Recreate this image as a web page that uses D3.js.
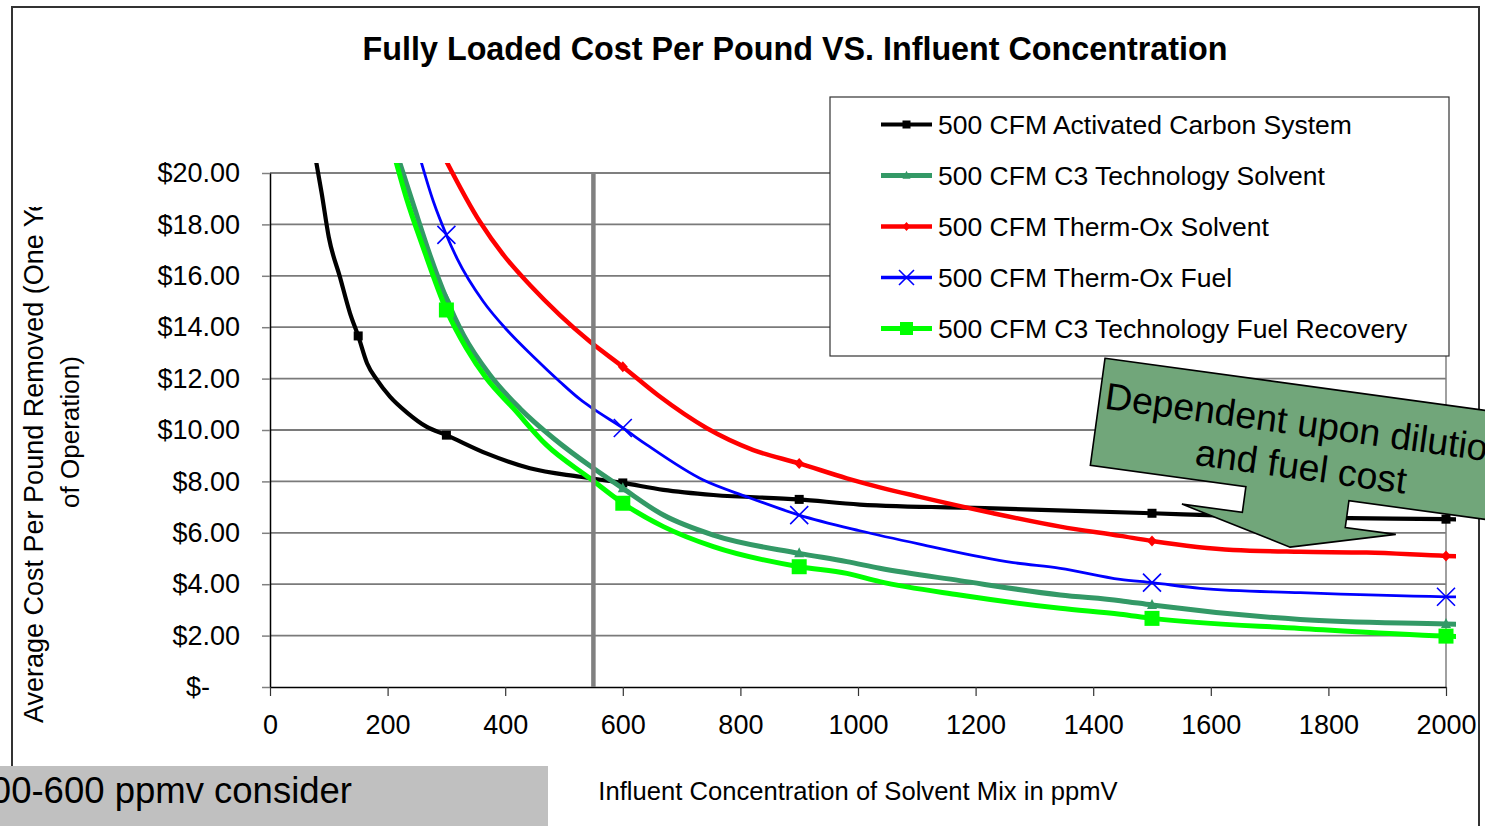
<!DOCTYPE html>
<html>
<head>
<meta charset="utf-8">
<title>Fully Loaded Cost Per Pound VS. Influent Concentration</title>
<script src="https://cdn.jsdelivr.net/npm/d3@7/dist/d3.min.js"></script>
<style>
  html, body { margin: 0; padding: 0; background: #fff; overflow: hidden; }
  svg { display: block; }
  text { font-family: "Liberation Sans", Arial, Helvetica, sans-serif; fill: #000; }
</style>
</head>
<body>
<svg id="chart" width="1485" height="826"></svg>
<script>
// Average cost per pound removed ($, one year of operation) against influent concentration (ppmV)
const activatedCarbon = [
  [75, 20.9], [88, 19.2], [100, 17.5], [119, 15.95], [136, 14.55], [150, 13.66], [165, 12.6],
  [182, 11.95], [204, 11.3], [233, 10.68], [266, 10.13], [300, 9.8], [368, 9.09], [442, 8.51],
  [527, 8.18], [600, 7.94], [669, 7.67], [754, 7.47], [900, 7.3], [1003, 7.1], [1230, 6.95],
  [1500, 6.76], [1650, 6.65], [1800, 6.58], [2000, 6.53], [2030, 6.52]
];
const c3Solvent = [
  [215, 20.8], [244, 18.75], [272, 16.81], [300, 15.12], [329, 13.7], [374, 12.14], [425, 10.84],
  [482, 9.68], [550, 8.51], [600, 7.73], [669, 6.69], [754, 5.91], [900, 5.2], [981, 4.88],
  [1037, 4.62], [1173, 4.14], [1344, 3.58], [1446, 3.36], [1500, 3.19], [1752, 2.63],
  [2000, 2.45], [2030, 2.43]
];
const thermOxSolvent = [
  [290, 20.9], [357, 18.1], [397, 16.81], [442, 15.64], [493, 14.47], [544, 13.44], [600, 12.46],
  [660, 11.35], [743, 10.07], [822, 9.22], [900, 8.7], [981, 8.12], [1037, 7.77], [1105, 7.4],
  [1230, 6.76], [1344, 6.24], [1446, 5.88], [1500, 5.68], [1638, 5.33], [1752, 5.26],
  [1865, 5.23], [2000, 5.1], [2030, 5.08]
];
const thermOxFuel = [
  [250, 21.0], [278, 18.88], [300, 17.59], [318, 16.68], [363, 14.99], [403, 13.89], [448, 12.85],
  [493, 11.88], [527, 11.2], [550, 10.82], [600, 10.08], [641, 9.42], [737, 8.05], [811, 7.4],
  [900, 6.69], [1003, 6.08], [1105, 5.56], [1264, 4.84], [1344, 4.62], [1446, 4.19], [1500, 4.06],
  [1582, 3.84], [1752, 3.67], [2000, 3.51], [2030, 3.5]
];
const c3FuelRecovery = [
  [210, 20.8], [232, 19.02], [261, 17.07], [300, 14.67], [334, 13.18], [368, 12.01], [414, 10.84],
  [470, 9.42], [544, 8.12], [600, 7.15], [669, 6.24], [754, 5.46], [900, 4.68], [981, 4.42],
  [1037, 4.1], [1173, 3.58], [1344, 3.06], [1446, 2.83], [1500, 2.67], [1752, 2.28],
  [2000, 1.98], [2030, 1.96]
];

// concentrations at which each series shows a point marker
const carbonMarkers = [150, 300, 600, 900, 1500, 2000];
const standardMarkers = [300, 600, 900, 1500, 2000];

const seriesNames = [
  "500 CFM Activated Carbon System",
  "500 CFM C3 Technology Solvent",
  "500 CFM Therm-Ox Solvent",
  "500 CFM Therm-Ox Fuel",
  "500 CFM C3 Technology Fuel Recovery"
];
const xTickValues = [0, 200, 400, 600, 800, 1000, 1200, 1400, 1600, 1800, 2000];
const yTickValues = [0, 2, 4, 6, 8, 10, 12, 14, 16, 18, 20];
const referenceConcentration = 550;

const chartTitle = "Fully Loaded Cost Per Pound VS. Influent Concentration";
const xTitle = "Influent Concentration of Solvent Mix in ppmV";
const yTitleLines = ["Average Cost Per Pound Removed (One Year", "of Operation)"];
const calloutLines = ["Dependent upon dilution", "and fuel cost"];
const noteText = "00-600 ppmv consider";

// ---- layout ----
const plot = { left: 270, right: 1446, top: 173, bottom: 687 };
const x = d3.scaleLinear().domain([0, 2000]).range([plot.left, plot.right]);
const y = d3.scaleLinear().domain([0, 20]).range([plot.bottom, plot.top]);
const svg = d3.select("#chart");

// outer chart frame
svg.append("rect")
  .attr("x", 12).attr("y", 7).attr("width", 1467).attr("height", 900)
  .attr("fill", "#fff").attr("stroke", "#333").attr("stroke-width", 2);

svg.append("text")
  .attr("x", 795).attr("y", 60).attr("text-anchor", "middle")
  .attr("font-size", 32.3).attr("font-weight", "bold")
  .text(chartTitle);

// horizontal gridlines
svg.append("g").selectAll("line")
  .data(yTickValues.filter(v => v > 0))
  .join("line")
  .attr("x1", plot.left).attr("x2", plot.right)
  .attr("y1", d => y(d)).attr("y2", d => y(d))
  .attr("stroke", d => d === 20 ? "#000" : "#7a7a7a")
  .attr("stroke-width", d => d === 20 ? 1.2 : 1.8);

svg.append("line")
  .attr("x1", plot.right).attr("x2", plot.right)
  .attr("y1", plot.top).attr("y2", plot.bottom)
  .attr("stroke", "#808080").attr("stroke-width", 1.5);

// axes
const yAxis = d3.axisLeft(y).tickValues(yTickValues).tickSize(8).tickSizeOuter(0).tickPadding(22)
  .tickFormat(d => d === 0 ? "$-" : "$" + d.toFixed(2));
const gy = svg.append("g").attr("transform", `translate(${plot.left},0)`).call(yAxis)
  .attr("font-size", 27).attr("font-family", null);
gy.select(".domain").attr("stroke", "#000").attr("stroke-width", 1.5);
gy.selectAll(".tick line").attr("stroke", "#808080").attr("stroke-width", 1.5);
gy.selectAll(".tick text").attr("fill", "#000");
gy.selectAll(".tick text").filter(d => d === 0).attr("dx", "-1.112em");

const xAxis = d3.axisBottom(x).tickValues(xTickValues).tickSize(9).tickSizeOuter(0).tickPadding(19)
  .tickFormat(d3.format("d"));
const gx = svg.append("g").attr("transform", `translate(0,${plot.bottom})`).call(xAxis)
  .attr("font-size", 27).attr("font-family", null);
gx.select(".domain").attr("stroke", "#000").attr("stroke-width", 1.5);
gx.selectAll(".tick line").attr("stroke", "#333").attr("stroke-width", 1.2);
gx.selectAll(".tick text").attr("fill", "#000");

// axis titles
svg.append("text")
  .attr("x", (plot.left + plot.right) / 2).attr("y", 800).attr("text-anchor", "middle")
  .attr("font-size", 25.6)
  .text(xTitle);

svg.append("clipPath").attr("id", "ytitle-clip")
  .append("rect").attr("x", 0).attr("y", 207).attr("width", 130).attr("height", 600);
const yTitle = svg.append("g").attr("clip-path", "url(#ytitle-clip)");
yTitle.append("text")
  .attr("transform", "translate(43,723) rotate(-90)")
  .attr("font-size", 27)
  .text(yTitleLines[0]);
yTitle.append("text")
  .attr("transform", "translate(79,432) rotate(-90)")
  .attr("text-anchor", "middle")
  .attr("font-size", 26)
  .text(yTitleLines[1]);

// ---- series ----
const series = [
  { name: seriesNames[0], values: activatedCarbon, marks: carbonMarkers, color: "#000000", width: 4.2, marker: "square", size: 9 },
  { name: seriesNames[1], values: c3Solvent, marks: standardMarkers, color: "#339966", width: 5, marker: "triangle", size: 10 },
  { name: seriesNames[2], values: thermOxSolvent, marks: standardMarkers, color: "#FF0000", width: 4.5, marker: "diamond", size: 10 },
  { name: seriesNames[3], values: thermOxFuel, marks: standardMarkers, color: "#0000FF", width: 2.8, marker: "cross", size: 18 },
  { name: seriesNames[4], values: c3FuelRecovery, marks: standardMarkers, color: "#00FF00", width: 5, marker: "square", size: 15 }
];

svg.append("clipPath").attr("id", "plot-clip")
  .append("rect")
  .attr("x", plot.left - 10).attr("y", plot.top - 10)
  .attr("width", plot.right - plot.left + 20).attr("height", plot.bottom - plot.top + 20);

const line = d3.line().x(d => x(d[0])).y(d => y(d[1])).curve(d3.curveMonotoneX);

function drawMarker(g, type, size, color, cx, cy) {
  const s = size;
  if (type === "square") {
    g.append("rect").attr("x", cx - s / 2).attr("y", cy - s / 2)
      .attr("width", s).attr("height", s).attr("fill", color);
  } else if (type === "triangle") {
    g.append("path")
      .attr("d", `M${cx},${cy - s * 0.6}L${cx + s / 2},${cy + s * 0.4}L${cx - s / 2},${cy + s * 0.4}Z`)
      .attr("fill", color);
  } else if (type === "diamond") {
    g.append("path")
      .attr("d", `M${cx},${cy - s * 0.55}L${cx + s / 2},${cy}L${cx},${cy + s * 0.55}L${cx - s / 2},${cy}Z`)
      .attr("fill", color);
  } else if (type === "cross") {
    const h = s / 2;
    g.append("path")
      .attr("d", `M${cx - h},${cy - h}L${cx + h},${cy + h}M${cx + h},${cy - h}L${cx - h},${cy + h}`)
      .attr("stroke", color).attr("stroke-width", 1.6).attr("fill", "none");
  }
}

const plotLayer = svg.append("g").attr("clip-path", "url(#plot-clip)");
series.forEach(s => {
  const g = plotLayer.append("g");
  g.append("path")
    .datum(s.values)
    .attr("d", line)
    .attr("fill", "none")
    .attr("stroke", s.color)
    .attr("stroke-width", s.width)
    .attr("stroke-linejoin", "round");
  s.marks.forEach(m => {
    const p = s.values.find(v => v[0] === m);
    if (p) drawMarker(g, s.marker, s.size, s.color, x(p[0]), y(p[1]));
  });
});

// reference concentration line
svg.append("line")
  .attr("x1", x(referenceConcentration)).attr("x2", x(referenceConcentration))
  .attr("y1", plot.top).attr("y2", plot.bottom)
  .attr("stroke", "#808080").attr("stroke-width", 4.5);

// ---- legend ----
const legend = svg.append("g").attr("transform", "translate(830,97)");
legend.append("rect").attr("width", 619).attr("height", 259)
  .attr("fill", "#fff").attr("stroke", "#333").attr("stroke-width", 1.2);
series.forEach((s, i) => {
  const cy = 27.5 + i * 51;
  const row = legend.append("g");
  row.append("line").attr("x1", 51).attr("x2", 102).attr("y1", cy).attr("y2", cy)
    .attr("stroke", s.color).attr("stroke-width", Math.max(s.width, 3.5));
  drawMarker(row, s.marker, s.marker === "cross" ? 15 : (s.marker === "square" && s.size > 10 ? 13 : 8), s.color, 76.5, cy);
  row.append("text").attr("x", 108).attr("y", cy + 9).attr("font-size", 26.5).text(s.name);
});

// ---- callout ----
const callout = svg.append("g").attr("transform", "translate(1105,358.3) rotate(7.8)");
callout.append("path")
  .attr("d", "M0,0L418,0L418,108L261,108L261,135L312,135L209,162L96,134L157,134L157,108L0,108Z")
  .attr("fill", "#71A67A").attr("stroke", "#000").attr("stroke-width", 1.6).attr("stroke-linejoin", "miter");
calloutLines.forEach((t, i) => {
  callout.append("text").attr("x", 209).attr("y", 50 + i * 43.5)
    .attr("text-anchor", "middle").attr("font-size", 37.5).text(t);
});

// ---- note box ----
svg.append("rect").attr("x", 0).attr("y", 766).attr("width", 548).attr("height", 60).attr("fill", "#C0C0C0");
svg.append("text").attr("x", 352).attr("y", 803).attr("text-anchor", "end")
  .attr("font-size", 36.5).text(noteText);
</script>
</body>
</html>
